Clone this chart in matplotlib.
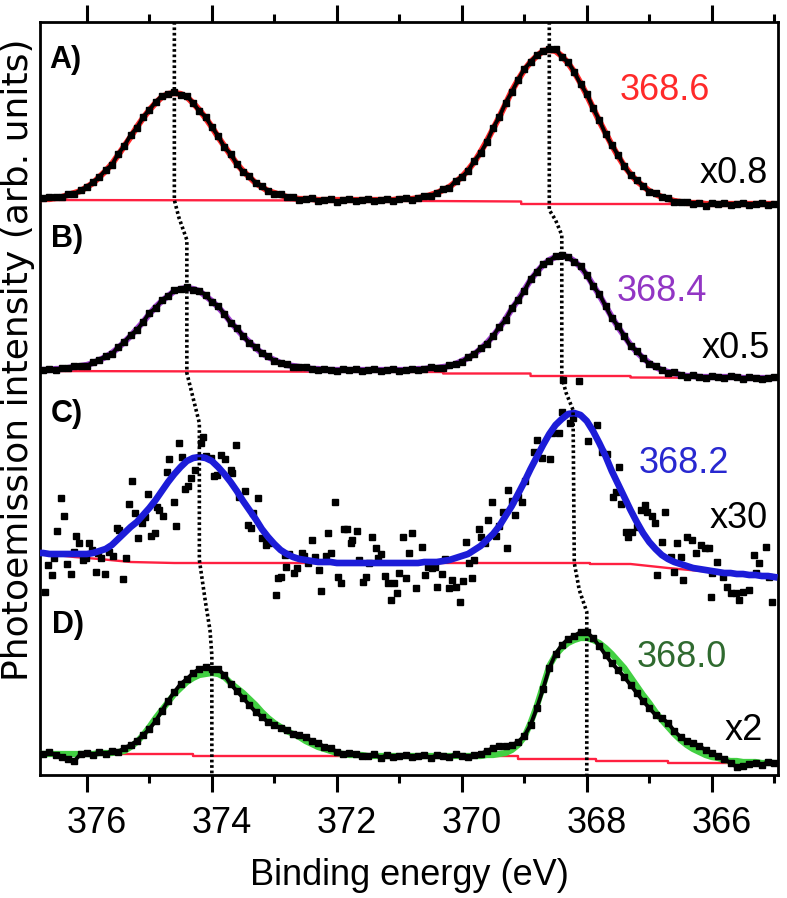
import matplotlib
matplotlib.use("Agg")
import matplotlib.pyplot as plt
import matplotlib.transforms as mtransforms
from matplotlib.ticker import MultipleLocator
import numpy as np

plt.rcParams["font.family"] = ["Liberation Sans", "DejaVu Sans"]

# binding energy grid of the A, B, C(fit) and D curves, eV
energy = np.round(np.linspace(376.8, 365.0, 119), 2)

# A) x0.8
fit_a = [5, 5, 5, 6, 7, 9, 11, 13, 17, 21,
         27, 33, 40, 49, 58, 67, 77, 86, 94, 101,
         107, 110, 111, 110, 107, 101, 94, 86, 77, 67,
         58, 49, 40, 33, 27, 21, 17, 13, 11, 9,
         7, 6, 5, 5, 5, 4, 4, 4, 4, 4,
         4, 4, 4, 4, 4, 4, 4, 4, 5, 5,
         5, 6, 7, 9, 11, 14, 17, 22, 27, 34,
         42, 52, 63, 75, 87, 100, 113, 124, 134, 142,
         148, 153, 154, 153, 148, 141, 132, 121, 109, 96,
         83, 71, 59, 48, 38, 30, 23, 18, 13, 10,
         7, 5, 3, 2, 1, 1, 1, 0, 0, 0,
         0, 0, 0, 0, 0, 0, 0, 0, 0]
data_a = [7, 6, 7, 7, 7, 10, 10, 14, 17, 22,
          27, 34, 39, 50, 58, 69, 76, 87, 94, 102,
          108, 110, 112, 109, 108, 101, 93, 87, 77, 68,
          57, 50, 40, 32, 28, 21, 18, 13, 10, 10,
          7, 7, 4, 5, 6, 3, 4, 5, 2, 4,
          5, 3, 4, 5, 3, 4, 5, 3, 5, 6,
          4, 6, 8, 8, 11, 15, 16, 23, 27, 33,
          43, 51, 62, 76, 87, 101, 112, 124, 135, 142,
          149, 153, 155, 155, 147, 142, 132, 120, 110, 96,
          84, 70, 59, 49, 38, 29, 24, 18, 12, 11,
          7, 6, 2, 2, 2, 0, 1, -2, 1, 0,
          1, -1, 0, 1, -1, 0, 1, -1, 0]
bg_a_e = [376.8, 372.0, 369.05, 369.05, 365.0]
bg_a = [4, 3.5, 2.5, 0, 0]

# B) x0.5
fit_b = [8, 8, 8, 9, 9, 10, 11, 12, 13, 15,
         18, 21, 25, 30, 36, 42, 49, 56, 64, 71,
         77, 82, 87, 89, 90, 89, 87, 82, 77, 71,
         64, 56, 49, 42, 36, 30, 25, 21, 18, 15,
         13, 12, 11, 10, 9, 9, 8, 8, 8, 8,
         8, 8, 8, 8, 8, 8, 8, 8, 8, 8,
         8, 9, 9, 10, 10, 11, 12, 14, 17, 20,
         24, 29, 35, 42, 50, 59, 69, 78, 88, 98,
         106, 113, 118, 121, 122, 121, 117, 111, 103, 93,
         83, 72, 61, 51, 42, 33, 26, 20, 15, 11,
         8, 6, 5, 3, 2, 2, 1, 1, 1, 1,
         1, 1, 1, 0, 0, 0, 0, 0, 0]
data_b = [9, 8, 9, 8, 10, 10, 12, 12, 12, 16,
          18, 22, 24, 31, 36, 43, 48, 56, 65, 70,
          78, 82, 88, 89, 91, 88, 87, 83, 76, 72,
          64, 55, 50, 42, 35, 31, 25, 22, 17, 15,
          14, 11, 11, 11, 9, 8, 9, 8, 7, 9,
          8, 9, 7, 8, 9, 7, 8, 9, 7, 8,
          9, 8, 9, 11, 10, 10, 13, 14, 16, 21,
          24, 30, 34, 42, 51, 58, 70, 78, 87, 99,
          106, 114, 117, 122, 123, 121, 116, 112, 103, 92,
          84, 72, 60, 52, 42, 32, 27, 20, 14, 12,
          8, 5, 6, 3, 1, 3, 1, 0, 2, 1,
          0, 2, 1, -1, 1, 0, -1, 0, 1]
bg_b_e = [376.8, 370.3, 370.3, 368.9, 368.9, 367.3, 367.3, 365.0]
bg_b = [7, 6, 4.5, 4.5, 2, 2, 0.5, 0]

# C) x30
fit_c = [24, 24, 23, 23, 23, 23, 23, 23, 23, 24,
         26, 28, 32, 38, 44, 50, 55, 62, 69, 77,
         86, 95, 103, 110, 116, 119, 120, 119, 116, 110,
         103, 95, 86, 76, 67, 58, 48, 40, 33, 27,
         23, 20, 18, 17, 16, 15, 15, 15, 14, 14,
         14, 14, 14, 14, 14, 14, 14, 14, 14, 14,
         14, 14, 15, 15, 15, 16, 17, 19, 21, 23,
         27, 31, 37, 43, 51, 61, 71, 83, 95, 108,
         120, 132, 143, 152, 158, 163, 164, 162, 156, 146,
         134, 121, 106, 93, 80, 67, 55, 44, 35, 28,
         22, 18, 15, 13, 11, 9, 8, 7, 6, 5,
         4, 4, 3, 3, 2, 2, 1, 1, 0]
c_points = [
    (376.67, -15), (376.62, 12), (376.56, 2), (376.53, 19), (376.48, 46),
    (376.42, 79), (376.37, 61), (376.32, 13), (376.26, 3), (376.21, 25),
    (376.17, 41), (376.12, 34), (376.06, 17), (376.02, 19), (375.97, 34),
    (375.92, 27), (375.86, 5), (375.82, 24), (375.78, 19), (375.71, 3),
    (375.65, 25), (375.58, 21), (375.51, 49), (375.48, 47), (375.42, -2),
    (375.37, 19), (375.33, 73), (375.28, 96), (375.23, 64), (375.18, 39),
    (375.11, 54), (375.07, 60), (375.02, 83), (374.98, 41), (374.91, 44),
    (374.88, 70), (374.84, 67), (374.78, 61), (374.71, 105), (374.68, 118),
    (374.61, 75), (374.58, 51), (374.52, 134), (374.47, 120), (374.43, 88),
    (374.38, 91), (374.33, 99), (374.27, 107), (374.18, 134), (374.14, 140),
    (374.10, 121), (374.02, 119), (373.97, 101), (373.91, 102), (373.85, 122),
    (373.79, 118), (373.70, 107), (373.67, 104), (373.61, 132), (373.57, 80),
    (373.47, 86), (373.42, 52), (373.38, 49), (373.34, 64), (373.26, 79),
    (373.19, 39), (373.14, 32), (373.09, 34), (372.98, -18), (372.94, -1),
    (372.89, 0), (372.83, 22), (372.82, 10), (372.77, 23), (372.69, 4),
    (372.64, 9), (372.56, 24), (372.53, 21), (372.46, 14), (372.40, 37),
    (372.35, 20), (372.28, 7), (372.25, -14), (372.18, 21), (372.14, 44),
    (372.09, 24), (372.03, 75), (371.98, 0), (371.94, -6), (371.89, 48),
    (371.83, 48), (371.78, 34), (371.76, 37), (371.68, 46), (371.64, 17),
    (371.58, -5), (371.53, 0), (371.49, 14), (371.44, 40), (371.38, 29),
    (371.34, 19), (371.30, 23), (371.23, 1), (371.18, -6), (371.14, -23),
    (371.09, -6), (371.04, -16), (371.00, 4), (370.94, 40), (370.90, -1),
    (370.85, 24), (370.79, 44), (370.74, -11), (370.63, 30), (370.59, 2),
    (370.54, 10), (370.48, 9), (370.43, 10), (370.39, -10), (370.32, 3),
    (370.27, 18), (370.21, -11), (370.15, -3), (370.10, -10), (370.03, -25),
    (369.98, -4), (369.93, 35), (369.89, 14), (369.83, -1), (369.81, 17),
    (369.73, 48), (369.69, 40), (369.63, 34), (369.58, 57), (369.51, 75),
    (369.45, 41), (369.40, 51), (369.34, 65), (369.28, 29), (369.26, 87),
    (369.19, 76), (369.15, 62), (369.10, 80), (369.03, 75), (368.99, 96),
    (368.84, 125), (368.80, 137), (368.71, 119), (368.59, 118), (368.55, 144),
    (368.45, 144), (368.39, 165), (368.38, 197), (368.27, 154), (368.22, 159),
    (368.12, 196), (367.98, 136), (367.84, 152), (367.75, 125), (367.68, 123),
    (367.58, 80), (367.54, 85), (367.49, 110), (367.46, 73), (367.38, 45),
    (367.34, 40), (367.27, 45), (367.19, 50), (367.14, 67), (367.07, 72),
    (367.03, 65), (366.95, 61), (366.91, 54), (366.87, 2), (366.79, 35),
    (366.75, 65), (366.66, 20), (366.61, 5), (366.55, 34), (366.50, 20),
    (366.46, -3), (366.39, 40), (366.32, 37), (366.26, 24), (366.18, 32),
    (366.11, 29), (366.05, 29), (366.02, -20), (366.00, 4), (365.91, 15),
    (365.82, 0), (365.75, -10), (365.70, -16), (365.62, -16), (365.56, -23),
    (365.50, -15), (365.41, -13), (365.33, 22), (365.29, 4), (365.25, 14),
    (365.14, 30), (365.08, 0), (365.03, -25),
]
c_energy = [p[0] for p in c_points]
c_counts = [p[1] for p in c_points]
bg_c_e = [376.8, 376.2, 375.8, 375.3, 374.6, 367.95, 367.95, 367.3, 366.7, 366.0, 365.4, 365.0]
bg_c = [24, 20, 18, 15, 14, 14, 13, 13, 9, 5, 2, 0]

# D) x2
fit_d = [9, 9, 9, 9, 9, 9, 9, 9, 9, 9,
         10, 10, 10, 11, 12, 16, 21, 28, 36, 45,
         53, 61, 69, 75, 81, 85, 88, 89, 90, 89,
         86, 80, 75, 70, 64, 58, 51, 45, 40, 36,
         32, 29, 26, 22, 19, 16, 14, 12, 10, 9,
         8, 8, 8, 7, 7, 7, 7, 7, 7, 7,
         7, 7, 7, 7, 7, 7, 7, 7, 7, 7,
         7, 7, 8, 8, 9, 10, 13, 18, 26, 40,
         57, 77, 97, 108, 115, 120, 123, 125, 125, 123,
         120, 115, 109, 102, 95, 86, 77, 68, 60, 51,
         43, 36, 29, 23, 18, 14, 11, 8, 6, 5,
         3, 2, 2, 1, 1, 1, 0, 0, 0]
data_d = [7, 9, 11, 8, 6, 4, 2, 9, 10, 8,
          11, 9, 12, 11, 15, 18, 22, 28, 34, 42,
          52, 62, 71, 79, 84, 90, 94, 96, 94, 94,
          88, 79, 72, 65, 58, 51, 46, 41, 38, 35,
          33, 29, 28, 26, 22, 20, 16, 15, 11, 9,
          10, 9, 7, 7, 9, 5, 8, 6, 7, 8,
          6, 7, 8, 5, 8, 7, 6, 9, 7, 6,
          8, 9, 12, 15, 17, 17, 18, 21, 27, 38,
          55, 74, 95, 109, 118, 124, 127, 131, 131, 125,
          117, 108, 100, 93, 86, 78, 70, 62, 55, 48,
          45, 40, 32, 26, 22, 20, 17, 13, 10, 7,
          4, 0, -4, -3, -1, 0, -2, 1, 0]
bg_d_e = [376.8, 374.3, 374.3, 369.1, 369.1, 367.85, 367.85, 366.7, 366.7, 365.0]
bg_d = [9, 9, 7, 7, 4, 4, 2, 2, 0, 0]

panel_labels = ["A)", "B)", "C)", "D)"]
peak_labels = ["368.6", "368.4", "368.2", "368.0"]
scale_labels = ["x0.8", "x0.5", "x30", "x2"]

# dotted guides through the two peak maxima
guide_left_e = [374.6, 374.6, 374.53, 374.4, 374.4, 374.2, 374.2, 374.1, 374.03, 374.0, 374.0]
guide_left_y = [753, 575, 558, 535, 402, 352, 215, 172, 145, 120, 0]
guide_right_e = [368.6, 368.6, 368.5, 368.4, 368.4, 368.33, 368.22, 368.2, 368.12, 368.0, 368.0]
guide_right_y = [753, 565, 555, 540, 398, 382, 365, 212, 185, 163, 0]

# vertical offset of each spectrum
offsets = [571, 397, 198, 12]
fit_colors = ["#ff2a2a", "#a040d0", "#1c1cd8", "#42d042"]
text_colors = ["#ff2a2a", "#9236c4", "#2828d0", "#2f6a2f"]
bg_color = "#ff2040"

fig = plt.figure(figsize=(7.87, 8.98), dpi=100)
ax = fig.add_axes([40 / 787, 1 - 775 / 898, 738 / 787, 753 / 898])

smooth = [(fit_a, data_a, bg_a_e, bg_a, 0), (fit_b, data_b, bg_b_e, bg_b, 1), (fit_d, data_d, bg_d_e, bg_d, 3)]
for fit, data, bge, bgv, i in smooth:
    off = offsets[i]
    ax.plot(bge, np.array(bgv) + off, color=bg_color, lw=1.7, zorder=2)
    ax.plot(energy, np.array(fit) + off, color=fit_colors[i], lw=4.5, zorder=3,
            solid_capstyle="round")
    ax.plot(energy, np.array(data) + off, color="black", lw=2.8, marker="s", ms=3.8,
            zorder=4)

# panel C
off = offsets[2]
ax.plot(bg_c_e, np.array(bg_c) + off, color=bg_color, lw=1.7, zorder=2)
ax.plot(c_energy, np.array(c_counts) + off, linestyle="none", marker="s", ms=3.8,
        color="black", zorder=3)
ax.plot(energy, np.array(fit_c) + off, color=fit_colors[2], lw=4.8, zorder=4)

ax.plot(guide_left_e, guide_left_y, color="black", lw=2.6, dashes=(0.75, 0.75), zorder=5)
ax.plot(guide_right_e, guide_right_y, color="black", lw=2.6, dashes=(0.75, 0.75), zorder=5)

# annotations
panel_pos = [(376.61, 707), (376.58, 528), (376.58, 353), (376.56, 142)]
peak_pos = [(367.47, 675), (367.52, 474), (367.17, 302), (367.2, 108)]
scale_pos = [(365.10, 592), (365.07, 417), (365.10, 247), (365.18, 35)]
for i in range(4):
    ax.text(*panel_pos[i], panel_labels[i], fontsize=22, fontweight="bold",
            ha="left", va="baseline")
    ax.text(*peak_pos[i], peak_labels[i], fontsize=26, color=text_colors[i],
            ha="left", va="baseline")
    ax.text(*scale_pos[i], scale_labels[i], fontsize=26, color="black",
            ha="right", va="baseline")

ax.set_xlim(376.75, 364.94)
ax.set_ylim(0, 753)
ax.set_yticks([])
ax.xaxis.set_major_locator(MultipleLocator(2))
ax.xaxis.set_minor_locator(MultipleLocator(1))
ax.tick_params(axis="x", which="both", direction="out", top=True, width=2.2,
               labelsize=26, pad=10)
ax.tick_params(axis="x", which="major", length=12)
ax.tick_params(axis="x", which="minor", length=6)
for sp in ax.spines.values():
    sp.set_linewidth(2.0)

shift = mtransforms.ScaledTranslation(0.10, 0, fig.dpi_scale_trans)
for lab in ax.get_xticklabels():
    lab.set_transform(lab.get_transform() + shift)

fig.text(409 / 787, 1 - 885 / 898, "Binding energy (eV)", fontsize=26,
         ha="center", va="baseline")
fig.text(18 / 787, 1 - 360 / 898, "Photoemission intensity (arb. units)",
         fontsize=26, family="DejaVu Sans", rotation=90, ha="center", va="center")

fig.savefig("out.png", dpi=100)
